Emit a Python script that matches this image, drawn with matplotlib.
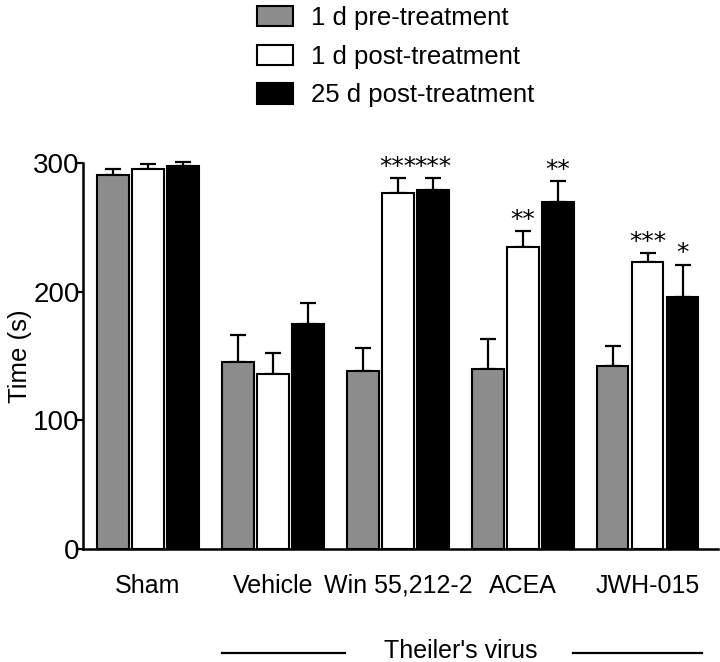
import numpy as np
import matplotlib.pyplot as plt
from matplotlib.transforms import blended_transform_factory

plt.rcParams["font.family"] = ["Liberation Sans", "DejaVu Sans"]

groups = ["Sham", "Vehicle", "Win 55,212-2", "ACEA", "JWH-015"]
series = ["1 d pre-treatment", "1 d post-treatment", "25 d post-treatment"]

pre_1d = [291, 145, 138, 140, 142]
post_1d = [295.5, 136, 277, 235, 223]
post_25d = [298, 175, 279, 270, 196]

pre_1d_err = [4, 21, 18, 23, 16]
post_1d_err = [4, 16, 11, 12, 7]
post_25d_err = [3, 16, 9, 16, 25]

post_1d_stars = ["", "", "***", "**", "***"]
post_25d_stars = ["", "", "***", "**", "*"]

fills = ["#8c8c8c", "white", "black"]

fig = plt.figure(figsize=(7.2, 6.62), dpi=100)
ax = fig.add_axes([0.1153, 0.1707, 0.8817, 0.5831])

x = np.arange(len(groups))
offset = 0.28
width = 0.25

values = [pre_1d, post_1d, post_25d]
errors = [pre_1d_err, post_1d_err, post_25d_err]
stars = [None, post_1d_stars, post_25d_stars]

handles = []
for i, (vals, errs, color, label) in enumerate(zip(values, errors, fills, series)):
    xs = x + (i - 1) * offset
    b = ax.bar(xs, vals, width, color=color, edgecolor="black", linewidth=1.5,
               label=label, zorder=3, clip_on=False)
    handles.append(b)
    ax.errorbar(xs, vals, yerr=[np.zeros(len(vals)), errs], fmt="none",
                ecolor="black", elinewidth=1.6, capsize=5.5, capthick=1.6,
                zorder=2, clip_on=False)
    if stars[i] is not None:
        for xi, v, e, s in zip(xs, vals, errs, stars[i]):
            if s:
                ax.annotate(s, (xi, v + e), xytext=(0, 3), textcoords="offset points",
                            ha="center", va="baseline", fontsize=18,
                            family=["DejaVu Sans"], annotation_clip=False)

ax.set_xlim(-0.52, 4.56)
ax.set_ylim(0, 300)
ax.set_yticks([0, 100, 200, 300])
ax.tick_params(axis="y", labelsize=20, width=1.6, length=4, pad=-1.5)
ax.set_xticks(x)
ax.set_xticklabels(groups, fontsize=18)
ax.tick_params(axis="x", length=0, pad=18)
ax.spines["top"].set_visible(False)
ax.spines["right"].set_visible(False)
ax.spines["left"].set_linewidth(1.8)
ax.spines["bottom"].set_linewidth(1.8)
ax.set_ylabel("Time (s)", fontsize=18.5)
ax.yaxis.set_label_coords(-0.080, 0.5)

# Theiler's virus bracket under the infected groups
trans = blended_transform_factory(ax.transData, ax.transAxes)
ax.plot([0.59, 1.58], [-0.269, -0.269], color="black", lw=1.6, transform=trans, clip_on=False)
ax.plot([3.40, 4.43], [-0.269, -0.269], color="black", lw=1.6, transform=trans, clip_on=False)
ax.text(2.5, -0.283, "Theiler's virus", ha="center", va="baseline", fontsize=18, transform=trans)

fig.legend(handles=handles, loc="upper left", bbox_to_anchor=(257 / 720, 1 - 6 / 662),
           frameon=False, fontsize=18.5, handlelength=1.4, handleheight=0.84,
           handletextpad=0.7, labelspacing=0.57, borderpad=0, borderaxespad=0)

fig.savefig("out.png", dpi=100)
